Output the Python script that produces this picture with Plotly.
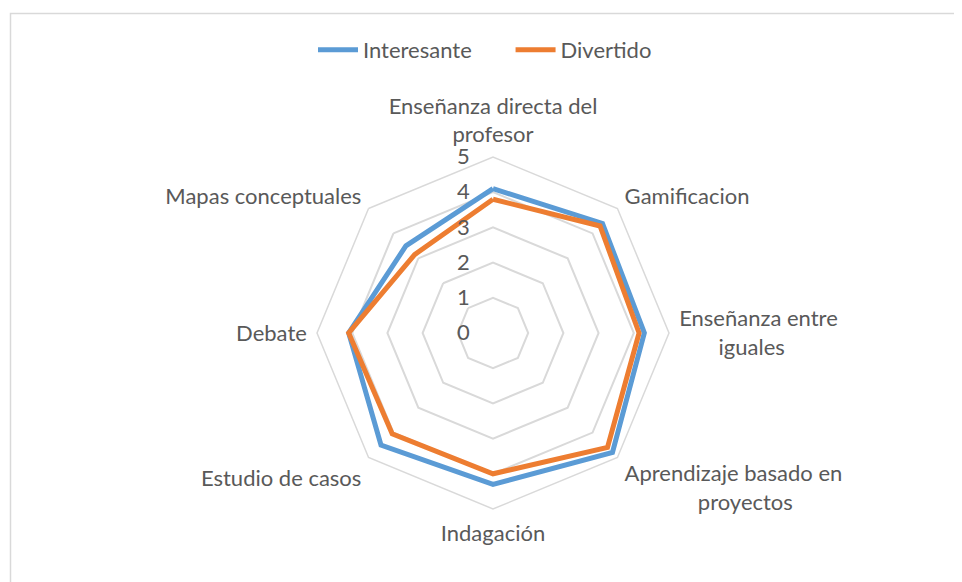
import plotly.graph_objects as go

NB = "\u00a0"
categories = ["Enseñanza directa del<br>profesor", "Gamificacion",
              "Enseñanza entre<br>" + NB * 7 + "iguales",
              "Aprendizaje basado en<br>" + NB * 13 + "proyectos", "Indagación", "Estudio de casos",
              "Debate", "Mapas conceptuales"]
interesante = [4.1, 4.4, 4.3, 4.8, 4.3, 4.5, 4.1, 3.5]
divertido = [3.8, 4.3, 4.15, 4.6, 4.0, 4.05, 4.1, 3.15]
radial_ticks = [0, 1, 2, 3, 4, 5]
series_names = ["Interesante" + NB * 6, "Divertido"]

OFF = 8  # default page body margin
W, H = 962 - OFF, 582 - OFF
cx, cy, R = 493 - OFF, 333 - OFF, 176

fig = go.Figure()
for name, vals, col in [(series_names[0], interesante, "#5B9BD5"), (series_names[1], divertido, "#ED7D31")]:
    fig.add_trace(go.Scatterpolar(
        r=vals + vals[:1], theta=categories + categories[:1], mode="lines", name=name,
        line=dict(color=col, width=5)))

font = dict(family="Lato, Open Sans, sans-serif", size=22, color="#595959")
fig.update_layout(
    width=W, height=H, margin=dict(l=0, r=0, t=0, b=0),
    paper_bgcolor="white", plot_bgcolor="white", font=font,
    polar=dict(
        domain=dict(x=[(cx - R) / W, (cx + R) / W], y=[(H - cy - R) / H, (H - cy + R) / H]),
        gridshape="linear", bgcolor="white",
        radialaxis=dict(range=[0, 5], tickvals=radial_ticks, showline=False, gridcolor="#D9D9D9",
                        gridwidth=1.5, angle=90, tickangle=90, side="counterclockwise",
                        ticks="outside", ticklen=15, tickcolor="rgba(0,0,0,0)", tickfont=font),
        angularaxis=dict(rotation=90, direction="clockwise", showgrid=False, linecolor="#D9D9D9",
                         linewidth=1.5, ticks="outside", ticklen=5, tickcolor="rgba(0,0,0,0)",
                         tickfont=font),
    ),
    legend=dict(orientation="h", x=0.5, xanchor="center", y=(H - (50 - OFF)) / H, yanchor="middle",
                font=font, itemwidth=40),
    shapes=[dict(type="rect", xref="paper", yref="paper", x0=(10.5 - OFF) / W, x1=1.2, y0=-0.2,
                 y1=(H - (13.5 - OFF)) / H, line=dict(color="#D9D9D9", width=1.5))],
)
fig.write_html("out.html")
